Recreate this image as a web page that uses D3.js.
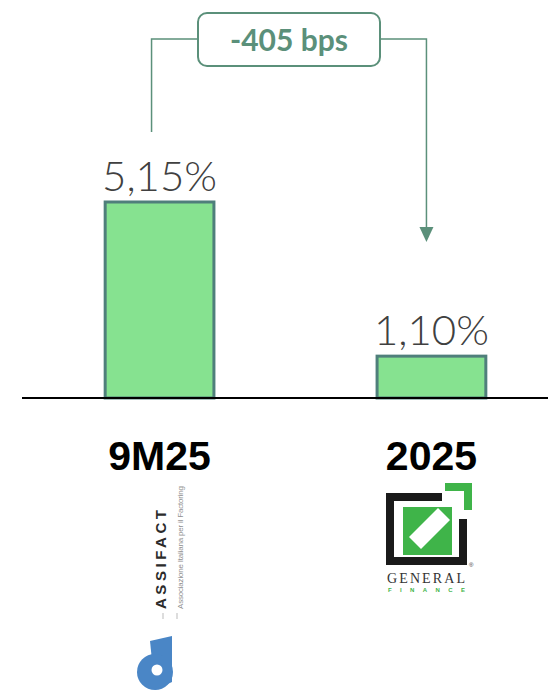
<!DOCTYPE html>
<meta charset="utf-8">
<script src="https://d3js.org/d3.v7.min.js"></script>
<style>
  body { margin: 0; background: #fff; }
</style>
<svg id="chart" width="548" height="691"></svg>
<script>

  // Data
  var categories = ["9M25", "2025"];
  var values = [5.15, 1.10];
  var valueLabels = ["5,15%", "1,10%"];
  var deltaLabel = "-405 bps";

  var svg = d3.select("#chart");

  var baseline = 398;

  // Scales
  var x = d3.scaleBand()
          .domain(categories)
          .range([10, 581])
          .paddingInner(0.6)
          .paddingOuter(0.35);

  var y = d3.scaleLinear()
          .domain([0, 5.15])
          .range([baseline, 202]);

  // Bars
  svg.append("g")
          .selectAll("rect")
          .data(values)
          .enter()
          .append("rect")
          .attr("x", function (d, i) { return x(categories[i]); })
          .attr("y", function (d) { return y(d); })
          .attr("width", x.bandwidth())
          .attr("height", function (d) { return baseline - y(d); })
          .attr("fill", "#86e290")
          .attr("stroke", "#4f7f7b")
          .attr("stroke-width", 3);

  // Value labels
  svg.append("g")
          .selectAll("text")
          .data(values)
          .enter()
          .append("text")
          .attr("x", function (d, i) { return x(categories[i]) + x.bandwidth() / 2; })
          .attr("y", function (d) { return y(d) - 11; })
          .attr("text-anchor", "middle")
          .attr("font-family", "Lato")
          .attr("font-weight", 300)
          .attr("font-size", 42)
          .attr("fill", "#404040")
          .text(function (d, i) { return valueLabels[i]; });

  // Axis line
  svg.append("line")
          .attr("x1", 22).attr("x2", 548)
          .attr("y1", baseline).attr("y2", baseline)
          .attr("stroke", "#000")
          .attr("stroke-width", 2);

  // Category labels
  svg.append("g")
          .selectAll("text")
          .data(categories)
          .enter()
          .append("text")
          .attr("x", function (d) { return x(d) + x.bandwidth() / 2; })
          .attr("y", 470)
          .attr("text-anchor", "middle")
          .attr("font-family", "Liberation Sans")
          .attr("font-weight", "bold")
          .attr("font-size", 41)
          .attr("fill", "#000")
          .text(function (d) { return d; });

  // Delta annotation
  var green = "#5b907a";
  var x0 = x(categories[0]) + x.bandwidth() / 2 - 8;
  var x1 = x(categories[1]) + x.bandwidth() / 2 - 5;
  var lineY = 39;
  svg.append("path")
          .attr("d", "M" + x0 + ",132 V" + lineY + " H199")
          .attr("fill", "none").attr("stroke", green).attr("stroke-width", 1.5);
  svg.append("path")
          .attr("d", "M380," + lineY + " H" + x1 + " V228")
          .attr("fill", "none").attr("stroke", green).attr("stroke-width", 1.5);
  svg.append("path")
          .attr("d", "M" + (x1 - 7) + ",227 L" + (x1 + 7) + ",227 L" + x1 + ",242 Z")
          .attr("fill", green);
  svg.append("rect")
          .attr("x", 198).attr("y", 13).attr("width", 182).attr("height", 53)
          .attr("rx", 9)
          .attr("fill", "#fff").attr("stroke", green).attr("stroke-width", 2);
  svg.append("text")
          .attr("x", 289).attr("y", 51)
          .attr("text-anchor", "middle")
          .attr("font-family", "Lato")
          .attr("font-weight", "bold")
          .attr("font-size", 30)
          .attr("fill", green)
          .text(deltaLabel);

  // ASSIFACT logo (rotated)
  var assi = svg.append("g").attr("transform", "translate(166,609) rotate(-90)");
  assi.append("text")
          .attr("x", 0).attr("y", 0)
          .attr("font-family", "Liberation Sans")
          .attr("font-weight", "bold")
          .attr("font-size", 15)
          .attr("textLength", 99)
          .attr("lengthAdjust", "spacing")
          .attr("fill", "#2b2b2b")
          .text("ASSIFACT");
  assi.append("text")
          .attr("x", 0).attr("y", 17)
          .attr("font-family", "Liberation Sans")
          .attr("font-size", 8)
          .attr("textLength", 123)
          .attr("fill", "#8f8f8f")
          .text("Associazione Italiana per il Factoring");
  assi.append("line")
          .attr("x1", -4).attr("x2", -10).attr("y1", -3).attr("y2", -3)
          .attr("stroke", "#bbb").attr("stroke-width", 1);
  assi.append("line")
          .attr("x1", -4).attr("x2", -10).attr("y1", 11).attr("y2", 11)
          .attr("stroke", "#bbb").attr("stroke-width", 1);
  svg.append("path")
          .attr("d", "M150,641 L172,636 L172,682 L155,690 Z")
          .attr("fill", "#4a86c6");
  svg.append("circle")
          .attr("cx", 155).attr("cy", 672).attr("r", 18)
          .attr("fill", "#4a86c6");
  svg.append("circle")
          .attr("cx", 157).attr("cy", 670).attr("r", 5.5)
          .attr("fill", "#fff");

  // General Finance logo
  var gf = svg.append("g");
  gf.append("path")
          .attr("d", "M442,493 H386 V565 H467 V519 H459 V557 H394 V501 H442 Z")
          .attr("fill", "#1a1a1a");
  gf.append("path")
          .attr("d", "M445,483 H472 V510 H464 V491 H445 Z")
          .attr("fill", "#3fb449");
  gf.append("rect")
          .attr("x", 403).attr("y", 507).attr("width", 49).attr("height", 48)
          .attr("fill", "#3fb449");
  gf.append("path")
          .attr("d", "M409,537 L438,508 L450,520 L421,549 Z")
          .attr("fill", "#fff");
  gf.append("text")
          .attr("x", 387).attr("y", 583)
          .attr("font-family", "Liberation Serif")
          .attr("font-size", 14)
          .attr("textLength", 78)
          .attr("lengthAdjust", "spacing")
          .attr("fill", "#333")
          .text("GENERAL");
  gf.append("text")
          .attr("x", 388).attr("y", 592)
          .attr("font-family", "Liberation Sans")
          .attr("font-weight", "bold")
          .attr("font-size", 6)
          .attr("textLength", 77)
          .attr("fill", "#3fb449")
          .text("FINANCE");
  gf.append("text")
          .attr("x", 469).attr("y", 567)
          .attr("font-family", "Liberation Sans")
          .attr("font-size", 6)
          .attr("fill", "#333")
          .text("®");

</script>
